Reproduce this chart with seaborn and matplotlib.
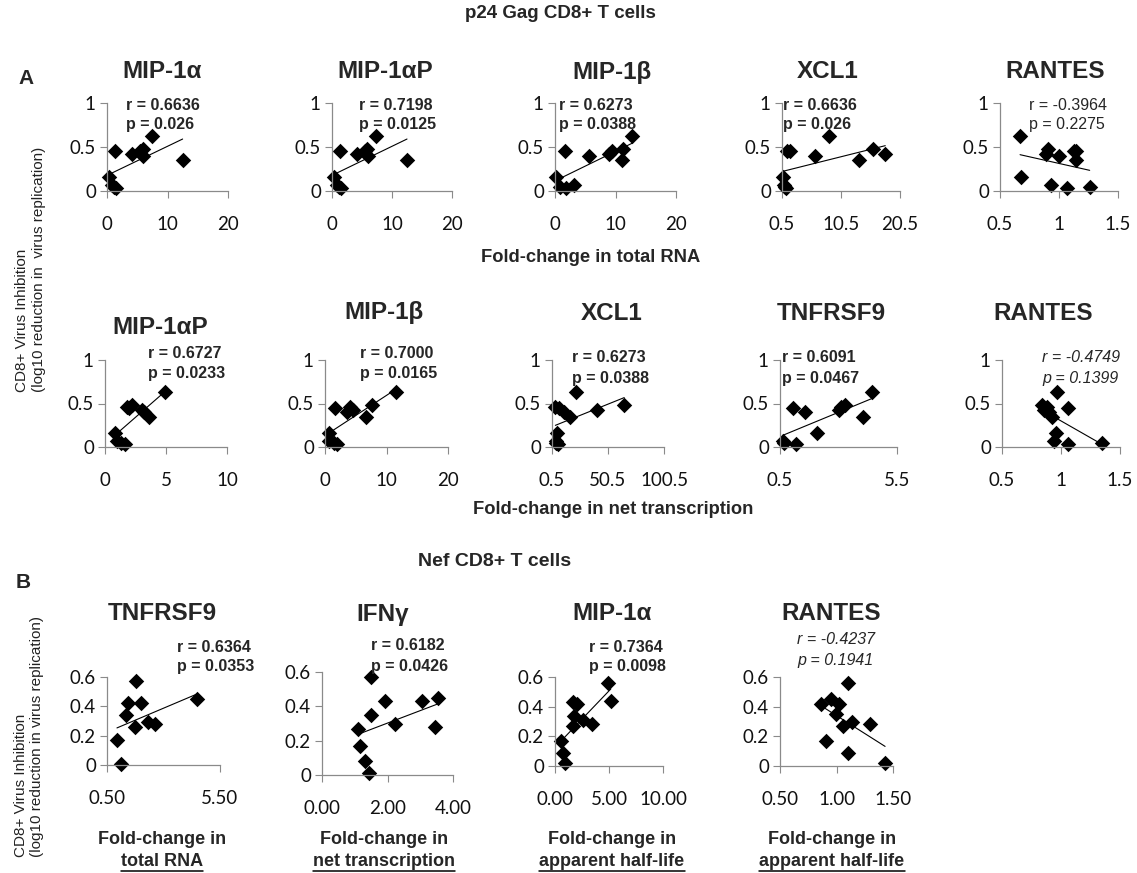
import numpy as np
import pandas as pd
import matplotlib
matplotlib.use("Agg")
import matplotlib.pyplot as plt
import seaborn as sns
from matplotlib.lines import Line2D

# ---------------- data ----------------
# Panel A: p24 Gag CD8+ T cells, shared y (log10 reduction in virus replication)
gag_y = [0.63, 0.48, 0.46, 0.45, 0.42, 0.40, 0.35, 0.16, 0.07, 0.05, 0.03]
# fold-change in total RNA
gag_mip1a_total = [7.4, 5.9, 5.5, 1.4, 4.2, 6.0, 12.5, 0.4, 0.8, 1.2, 1.5]
gag_mip1ap_total = [7.4, 5.9, 5.5, 1.4, 4.2, 6.0, 12.5, 0.4, 0.8, 1.2, 1.5]
gag_mip1b_total = [12.8, 11.2, 9.5, 1.6, 8.9, 5.7, 11.0, 0.2, 3.1, 0.8, 1.8]
gag_xcl1_total = [8.5, 16.0, 1.9, 1.3, 18.0, 6.1, 13.5, 0.7, 0.8, 1.0, 1.2]
gag_rantes_total = [0.67, 0.91, 1.14, 1.13, 0.89, 1.00, 1.14, 0.68, 0.93, 1.26, 1.07]
# fold-change in net transcription
gag_mip1ap_net = [4.9, 2.2, 1.8, 2.0, 3.0, 3.2, 3.6, 0.8, 1.0, 1.3, 1.6]
gag_mip1b_net = [11.6, 7.7, 4.0, 1.7, 4.6, 3.6, 6.6, 0.7, 0.6, 1.4, 2.0]
gag_xcl1_net = [22.0, 65.0, 3.5, 7.0, 41.0, 11.0, 17.0, 5.0, 4.0, 4.5, 5.5]
gag_tnfrsf9_net = [4.43, 3.29, 3.10, 1.07, 3.00, 1.57, 4.04, 2.07, 0.62, 0.66, 1.19]
gag_rantes_net = [0.97, 0.84, 0.88, 1.06, 0.86, 0.90, 0.92, 0.96, 0.94, 1.35, 1.06]

# Panel B: Nef CD8+ T cells
nef_tnfrsf9_x = [1.80, 4.49, 1.43, 2.02, 1.36, 2.32, 2.62, 1.73, 0.94, 1.14]
nef_tnfrsf9_y = [0.57, 0.45, 0.42, 0.42, 0.34, 0.29, 0.28, 0.26, 0.17, 0.01]
nef_ifng_x = [1.49, 3.54, 1.92, 3.04, 1.49, 2.23, 3.44, 1.11, 1.16, 1.32, 1.45]
nef_ifng_y = [0.57, 0.45, 0.43, 0.43, 0.35, 0.30, 0.28, 0.27, 0.17, 0.08, 0.01]
nef_mip1a_x = [4.95, 5.17, 1.70, 2.07, 1.75, 2.57, 3.41, 1.70, 0.53, 0.71, 0.93]
nef_mip1a_y = [0.56, 0.44, 0.43, 0.42, 0.34, 0.31, 0.28, 0.27, 0.17, 0.085, 0.02]
nef_rantes_x = [1.104, 0.86, 0.95, 1.02, 0.995, 1.055, 1.135, 1.30, 0.907, 1.104, 1.43]
nef_rantes_y = [0.56, 0.42, 0.45, 0.42, 0.35, 0.27, 0.30, 0.28, 0.17, 0.085, 0.018]

# annotation texts
gag_total_titles = ["MIP-1\u03b1", "MIP-1\u03b1P", "MIP-1\u03b2", "XCL1", "RANTES"]
gag_total_stats = [("r = 0.6636", "p = 0.026"), ("r = 0.7198", "p = 0.0125"),
                   ("r = 0.6273", "p = 0.0388"), ("r = 0.6636", "p = 0.026"),
                   ("r = -0.3964", "p = 0.2275")]
gag_net_titles = ["MIP-1\u03b1P", "MIP-1\u03b2", "XCL1", "TNFRSF9", "RANTES"]
gag_net_stats = [("r = 0.6727", "p = 0.0233"), ("r = 0.7000", "p = 0.0165"),
                 ("r = 0.6273", "p = 0.0388"), ("r = 0.6091", "p = 0.0467"),
                 ("r = -0.4749", "p = 0.1399")]
nef_titles = ["TNFRSF9", "IFN\u03b3", "MIP-1\u03b1", "RANTES"]
nef_stats = [("r = 0.6364", "p = 0.0353"), ("r = 0.6182", "p = 0.0426"),
             ("r = 0.7364", "p = 0.0098"), ("r = -0.4237", "p = 0.1941")]
nef_xlabels = ["total RNA", "net transcription", "apparent half-life", "apparent half-life"]

# ---------------- figure ----------------
sns.set_theme(style="white")
plt.rcParams['font.family'] = ['Liberation Sans', 'DejaVu Sans']

W, H = 1137, 873
fig = plt.figure(figsize=(W / 100, H / 100), dpi=100)
AXC = '#8a8a8a'
TICK_FS = 13.5
TITLE_FS = 17.5
ANN_FS = 11.5


def add_ax(x0, x1, ytop, ybot):
    return fig.add_axes([x0 / W, 1 - ybot / H, (x1 - x0) / W, (ybot - ytop) / H])


def ftext(x, y, s, **kw):
    kw.setdefault('va', 'center')
    return fig.text(x / W, 1 - y / H, s, **kw)


def panel(ax, x, y, xlim, xticks, xfmt, ylim, yticks, yfmt):
    sns.regplot(x=np.asarray(x, float), y=np.asarray(y, float), ax=ax, ci=None,
                truncate=True, marker='D', color='black',
                scatter_kws=dict(s=62, linewidths=0, clip_on=False, alpha=1),
                line_kws=dict(lw=0.8, color='black'))
    ax.set_xlim(*xlim)
    ax.set_ylim(*ylim)
    ax.set_xticks(xticks)
    ax.set_xticklabels([xfmt(v) for v in xticks])
    ax.set_yticks(yticks)
    ax.set_yticklabels([yfmt(v) for v in yticks])
    ax.set_xlabel('')
    ax.set_ylabel('')
    sns.despine(ax=ax)
    for s in ('left', 'bottom'):
        ax.spines[s].set_color(AXC)
        ax.spines[s].set_linewidth(0.9)
    ax.tick_params(axis='both', bottom=True, left=True, direction='out', length=5,
                   width=0.8, color=AXC, labelsize=TICK_FS, labelcolor='#111111',
                   labelfontfamily='Lato')
    ax.tick_params(axis='x', pad=13)
    ax.tick_params(axis='y', pad=3)
    ax.set_facecolor('none')


fmtA = lambda v: f"{v:g}"
fmt2 = lambda v: f"{v:.2f}"

# ---- row A1 : total RNA ----
row1_pos = [(107, 228), (332, 452), (555, 676), (782, 900), (1000, 1118)]
row1_x = [gag_mip1a_total, gag_mip1ap_total, gag_mip1b_total, gag_xcl1_total, gag_rantes_total]
row1_lim = [(0, 20), (0, 20), (0, 20), (0.5, 20.5), (0.5, 1.5)]
row1_ticks = [[0, 10, 20], [0, 10, 20], [0, 10, 20], [0.5, 10.5, 20.5], [0.5, 1, 1.5]]
row1_title_x = [162, 385, 612, 828, 1055]
row1_ann_x = [126, 359, 559, 783, 1029]
for i in range(5):
    ax = add_ax(row1_pos[i][0], row1_pos[i][1], 103, 191)
    panel(ax, row1_x[i], gag_y, row1_lim[i], row1_ticks[i], fmtA, (0, 1), [0, 0.5, 1], fmtA)
    ftext(row1_title_x[i], 72, gag_total_titles[i], ha='center', fontsize=TITLE_FS,
          fontweight='bold')
    wt = 'normal' if i == 4 else 'bold'
    ftext(row1_ann_x[i], 105, gag_total_stats[i][0], ha='left', fontsize=ANN_FS, fontweight=wt)
    ftext(row1_ann_x[i], 124, gag_total_stats[i][1], ha='left', fontsize=ANN_FS, fontweight=wt)

# ---- row A2 : net transcription ----
row2_pos = [(105, 227), (325, 448), (552, 664), (780, 897), (1002, 1120)]
row2_x = [gag_mip1ap_net, gag_mip1b_net, gag_xcl1_net, gag_tnfrsf9_net, gag_rantes_net]
row2_lim = [(0, 10), (0, 20), (0.5, 100.5), (0.5, 5.5), (0.5, 1.5)]
row2_ticks = [[0, 5, 10], [0, 10, 20], [0.5, 50.5, 100.5], [0.5, 5.5], [0.5, 1, 1.5]]
row2_title_x = [160, 384, 612, 831, 1043]
row2_title_y = [327, 313, 313, 313, 313]
row2_ann_x = [148, 360, 572, 782, 1042]
row2_ann_y = [353, 353, 358, 358, 358]
for i in range(5):
    ax = add_ax(row2_pos[i][0], row2_pos[i][1], 360, 447)
    panel(ax, row2_x[i], gag_y, row2_lim[i], row2_ticks[i], fmtA, (0, 1), [0, 0.5, 1], fmtA)
    ftext(row2_title_x[i], row2_title_y[i], gag_net_titles[i], ha='center', fontsize=TITLE_FS,
          fontweight='bold')
    if i == 4:
        kw = dict(fontweight='normal', style='italic')
    else:
        kw = dict(fontweight='bold')
    ftext(row2_ann_x[i], row2_ann_y[i], gag_net_stats[i][0], ha='left', fontsize=ANN_FS, **kw)
    ftext(row2_ann_x[i], row2_ann_y[i] + 20, gag_net_stats[i][1], ha='left', fontsize=ANN_FS,
          **kw)

# ---- panel B : Nef ----
nef_pos = [(107, 220, 677, 765), (322, 453, 672, 775), (555, 663, 677, 766), (780, 893, 677, 766)]
nef_xs = [nef_tnfrsf9_x, nef_ifng_x, nef_mip1a_x, nef_rantes_x]
nef_ys = [nef_tnfrsf9_y, nef_ifng_y, nef_mip1a_y, nef_rantes_y]
nef_lim = [(0.5, 5.5), (0, 4), (0, 10), (0.5, 1.5)]
nef_ticks = [[0.5, 5.5], [0, 2, 4], [0, 5, 10], [0.5, 1.0, 1.5]]
nef_title_x = [162, 383, 612, 831]
nef_ann_x = [177, 371, 589, 797]
nef_ann_y = [647, 646, 647, 640]
nef_lab_x = [162, 384, 612, 832]
under_texts = []
for i in range(4):
    x0, x1, yt, yb = nef_pos[i]
    ax = add_ax(x0, x1, yt, yb)
    panel(ax, nef_xs[i], nef_ys[i], nef_lim[i], nef_ticks[i], fmt2, (0, 0.6),
          [0, 0.2, 0.4, 0.6], fmtA)
    ftext(nef_title_x[i], 614, nef_titles[i], ha='center', fontsize=TITLE_FS, fontweight='bold')
    if i == 3:
        kw = dict(fontweight='normal', style='italic')
    else:
        kw = dict(fontweight='bold')
    ftext(nef_ann_x[i], nef_ann_y[i], nef_stats[i][0], ha='left', fontsize=ANN_FS, **kw)
    ftext(nef_ann_x[i], nef_ann_y[i] + 20, nef_stats[i][1], ha='left', fontsize=ANN_FS, **kw)
    ftext(nef_lab_x[i], 840, "Fold-change in", ha='center', fontsize=13, fontweight='bold')
    under_texts.append(ftext(nef_lab_x[i], 862, nef_xlabels[i], ha='center', fontsize=13,
                             fontweight='bold'))

# ---- headers / labels ----
ftext(560, 14, "p24 Gag CD8+ T cells", ha='center', fontsize=13.5, fontweight='bold')
ftext(26, 79, "A", ha='center', fontsize=15, fontweight='bold')
ftext(591, 258, "Fold-change in total RNA", ha='center', fontsize=13.2, fontweight='bold')
ftext(613, 510, "Fold-change in net transcription", ha='center', fontsize=13.2, fontweight='bold')
ftext(495, 562, "Nef CD8+ T cells", ha='center', fontsize=14, fontweight='bold')
ftext(23, 582, "B", ha='center', fontsize=15, fontweight='bold')

for (xc, ybottom, s) in [(22, 392, "CD8+ Virus Inhibition"),
                         (39, 392, "(log10 reduction in  virus replication)"),
                         (21, 857, "CD8+ Virus Inhibition"),
                         (37, 857, "(log10 reduction in virus replication)")]:
    fig.text(xc / W, 1 - ybottom / H, s, rotation=90, rotation_mode='anchor',
             ha='left', va='center', fontsize=11, color='#222222')

# underline the second line of the panel B axis labels
fig.canvas.draw()
r = fig.canvas.get_renderer()
for t in under_texts:
    bb = t.get_window_extent(r)
    yline = bb.y0 - 0.5
    fig.add_artist(Line2D([bb.x0 / W, bb.x1 / W], [yline / H, yline / H],
                          transform=fig.transFigure, color='black', lw=1.1))

fig.savefig("out.png", dpi=100, facecolor='white')
